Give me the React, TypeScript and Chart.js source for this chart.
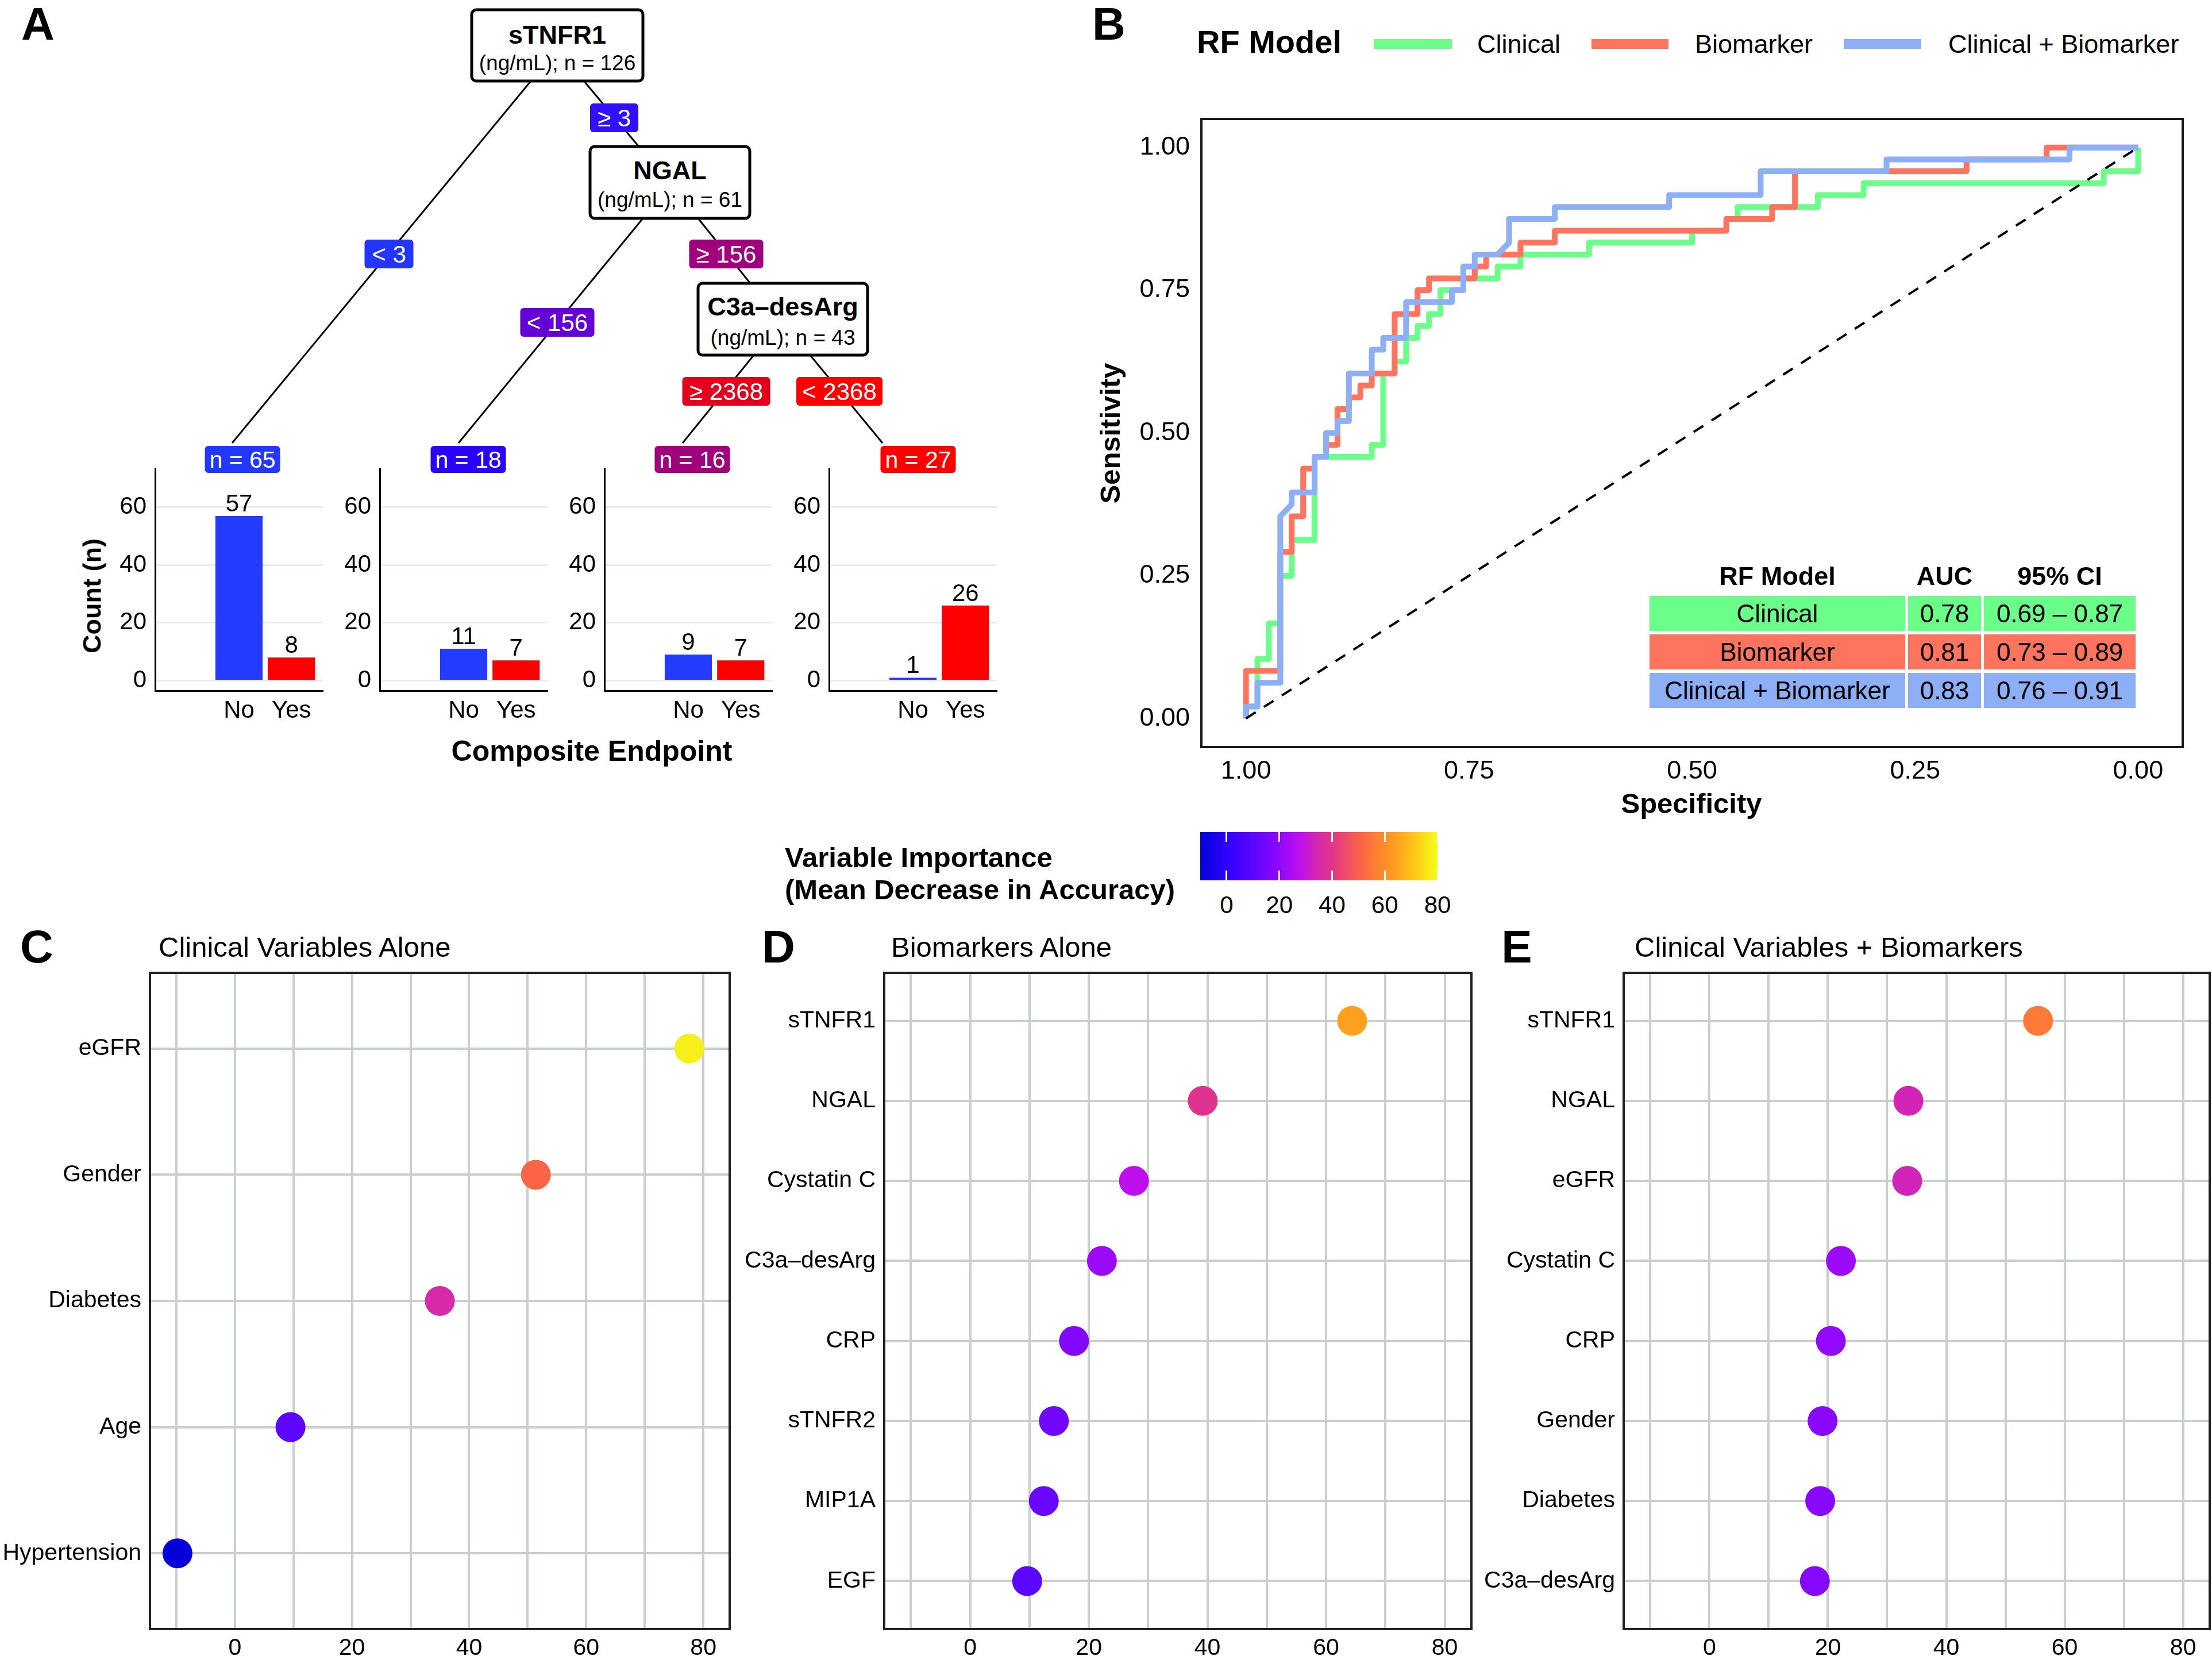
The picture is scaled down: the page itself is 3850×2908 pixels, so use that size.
import React, { useEffect, useRef } from 'react';
import { Chart, registerables } from 'chart.js';

Chart.register(...registerables);

const FONT = '"Liberation Sans", Arial, Helvetica, sans-serif';
Chart.defaults.font.family = FONT;
Chart.defaults.color = '#000';

// ---------------- Panel A : decision tree + leaf bar charts ----------------
const treeSplitVars = ['sTNFR1', 'NGAL', 'C3a–desArg'];
const treeNodeN = [126, 61, 43];
const treeUnit = 'ng/mL';
const edgeLabels = ['≥ 3', '< 3', '< 156', '≥ 156', '≥ 2368', '< 2368'];
const outcomeCategories = ['No', 'Yes'];
const leafNoCounts = [57, 11, 9, 1];
const leafYesCounts = [8, 7, 7, 26];
const countTicks = [0, 20, 40, 60];

// ---------------- Panel B : ROC curves (false-positive / true-positive counts) ----------------
const ROC_NEG = 78;
const ROC_POS = 48;
const clinicalFP = [0, 0, 1, 1, 2, 2, 3, 3, 4, 4, 6, 6, 11, 11, 12, 12, 13, 13, 14, 14, 15, 15, 16, 16, 17, 17, 19, 19, 22, 22, 24, 24, 30, 30, 39, 39, 42, 42, 43, 43, 50, 50, 54, 54, 75, 75, 78, 78];
const clinicalTP = [0, 1, 1, 5, 5, 8, 8, 12, 12, 15, 15, 22, 22, 23, 23, 29, 29, 30, 30, 32, 32, 33, 33, 34, 34, 36, 36, 37, 37, 38, 38, 39, 39, 40, 40, 41, 41, 42, 42, 43, 43, 44, 44, 45, 45, 46, 46, 48];
const biomarkerFP = [0, 0, 3, 3, 4, 4, 5, 5, 6, 6, 7, 7, 8, 8, 9, 9, 10, 10, 11, 11, 13, 13, 15, 15, 16, 16, 20, 20, 21, 21, 24, 24, 27, 27, 42, 42, 46, 46, 48, 48, 63, 63, 70, 70, 78];
const biomarkerTP = [0, 4, 4, 14, 14, 17, 17, 21, 21, 22, 22, 23, 23, 26, 26, 27, 27, 28, 28, 29, 29, 34, 34, 36, 36, 37, 37, 38, 38, 39, 39, 40, 40, 41, 41, 42, 42, 43, 43, 46, 46, 47, 47, 48, 48];
const combinedFP = [0, 0, 1, 1, 3, 3, 4, 4, 6, 6, 7, 7, 8, 8, 9, 9, 11, 11, 12, 12, 14, 14, 18, 18, 19, 19, 20, 20, 22, 23, 23, 27, 27, 37, 37, 45, 45, 56, 56, 72, 72, 78];
const combinedTP = [0, 1, 1, 3, 3, 17, 18, 19, 19, 22, 22, 24, 24, 25, 25, 29, 29, 31, 31, 32, 32, 35, 35, 36, 36, 38, 38, 39, 39, 40, 42, 42, 43, 43, 44, 44, 46, 46, 47, 47, 48, 48];
const rocTicks = [0, 0.25, 0.5, 0.75, 1];
const modelNames = ['Clinical', 'Biomarker', 'Clinical + Biomarker'];
const modelAUC = ['0.78', '0.81', '0.83'];
const modelCI = ['0.69 – 0.87', '0.73 – 0.89', '0.76 – 0.91'];

// ---------------- Panels C, D, E : variable importance ----------------
const clinicalVars = ['eGFR', 'Gender', 'Diabetes', 'Age', 'Hypertension'];
const clinicalImp = [77.6, 51.4, 35.0, 9.5, -9.8];
const biomarkerVars = ['sTNFR1', 'NGAL', 'Cystatin C', 'C3a–desArg', 'CRP', 'sTNFR2', 'MIP1A', 'EGF'];
const biomarkerImp = [64.4, 39.2, 27.6, 22.2, 17.5, 14.1, 12.4, 9.6];
const combinedVars = ['sTNFR1', 'NGAL', 'eGFR', 'Cystatin C', 'CRP', 'Gender', 'Diabetes', 'C3a–desArg'];
const combinedImp = [55.5, 33.6, 33.4, 22.2, 20.5, 19.1, 18.7, 17.8];
const impTicks = [0, 20, 40, 60, 80];
const impGrid = [-10, 0, 10, 20, 30, 40, 50, 60, 70, 80];
const impRange = [-10, 80];

// ---------------- styles ----------------
const NO_BLUE = '#233CFF';
const YES_RED = '#FF0000';
const GREEN = '#6BFF8A';
const SALMON = '#FF745E';
const CORNFLOWER = '#8CAFF6';
const MODEL_COLORS = [GREEN, SALMON, CORNFLOWER];
const GRID_GREY = '#C8CFCC';
const IMP_STOPS = [-10, 0, 10, 20, 28, 35, 40, 51, 56, 65, 72, 80];
const IMP_COLORS = ['#0400D8', '#2E00FF', '#5C06FF', '#9008FF', '#C010EE', '#D62AA8', '#E2358A', '#FA6446', '#FF7C34', '#FFA41E', '#FFCB16', '#F2FF1A'];
const PAD_TOP = 50;

function hexToRgb(h: string) {
  const n = parseInt(h.slice(1), 16);
  return [(n >> 16) & 255, (n >> 8) & 255, n & 255];
}
function importanceColor(v: number) {
  if (v <= IMP_STOPS[0]) return IMP_COLORS[0];
  for (let i = 1; i < IMP_STOPS.length; i++) {
    if (v <= IMP_STOPS[i]) {
      const t = (v - IMP_STOPS[i - 1]) / (IMP_STOPS[i] - IMP_STOPS[i - 1]);
      const a = hexToRgb(IMP_COLORS[i - 1]);
      const b = hexToRgb(IMP_COLORS[i]);
      const c = a.map((x, k) => Math.round(x + (b[k] - x) * t));
      return `rgb(${c[0]},${c[1]},${c[2]})`;
    }
  }
  return IMP_COLORS[IMP_COLORS.length - 1];
}

const framePlugin = (width: number, color: string) => ({
  id: 'frame',
  afterDraw(chart: any) {
    const { ctx, chartArea: a } = chart;
    ctx.save();
    ctx.strokeStyle = color;
    ctx.lineWidth = width;
    ctx.strokeRect(a.left, a.top, a.right - a.left, a.bottom - a.top);
    ctx.restore();
  },
});

const barValueLabels = {
  id: 'barValueLabels',
  afterDatasetsDraw(chart: any) {
    const ctx = chart.ctx;
    const meta = chart.getDatasetMeta(0);
    const ds = chart.data.datasets[0];
    ctx.save();
    ctx.font = `42px ${FONT}`;
    ctx.fillStyle = '#000';
    ctx.textAlign = 'center';
    ctx.textBaseline = 'alphabetic';
    meta.data.forEach((el: any, i: number) => {
      ctx.fillText(String(ds.data[i].y), el.x, el.y - 8);
    });
    ctx.restore();
  },
};

function baseOptions(pad: { top: number; right: number }) {
  return {
    animation: false,
    responsive: false,
    maintainAspectRatio: false,
    devicePixelRatio: 1,
    events: [],
    layout: { autoPadding: false, padding: { top: pad.top, right: pad.right, left: 0, bottom: 0 } },
    plugins: { legend: { display: false }, tooltip: { enabled: false }, title: { display: false } },
  };
}

function barConfig(i: number): any {
  return {
    type: 'bar',
    data: {
      datasets: [
        {
          data: [
            { x: 2, y: leafNoCounts[i] },
            { x: 3, y: leafYesCounts[i] },
          ],
          backgroundColor: [NO_BLUE, YES_RED],
          borderWidth: 0,
          barPercentage: 0.9,
          categoryPercentage: 1,
        },
      ],
    },
    options: {
      ...baseOptions({ top: PAD_TOP, right: 14 }),
      scales: {
        x: {
          type: 'linear',
          min: 0.4,
          max: 3.6,
          offset: false,
          afterBuildTicks: (s: any) => {
            s.ticks = outcomeCategories.map((_, k) => ({ value: k + 2 }));
          },
          ticks: {
            callback: (v: number) => outcomeCategories[v - 2],
            font: { size: 42, family: FONT },
            color: '#000',
            padding: 10,
            autoSkip: false,
            maxRotation: 0,
          },
          grid: { display: false, drawTicks: false, offset: false },
          border: { display: true, color: '#000', width: 3 },
          afterFit: (s: any) => {
            s.height = 58;
          },
        },
        y: {
          type: 'linear',
          min: -3.5,
          max: 73.5,
          afterBuildTicks: (s: any) => {
            s.ticks = countTicks.map((v) => ({ value: v }));
          },
          ticks: { font: { size: 42, family: FONT }, color: '#000', padding: 15 },
          grid: { color: '#EBEBEB', lineWidth: 3, drawTicks: false },
          border: { display: true, color: '#000', width: 3 },
          afterFit: (s: any) => {
            s.width = 85;
          },
        },
      },
    },
    plugins: [barValueLabels],
  };
}

function rocPoints(fp: number[], tp: number[]) {
  return fp.map((f, i) => ({ x: 1 - f / ROC_NEG, y: tp[i] / ROC_POS }));
}

function rocConfig(): any {
  const line = (label: string, data: any[], color: string, order: number) => ({
    label,
    data,
    showLine: true,
    borderColor: color,
    backgroundColor: color,
    borderWidth: 10,
    borderJoinStyle: 'round',
    borderCapStyle: 'butt',
    pointRadius: 0,
    tension: 0,
    order,
  });
  return {
    type: 'scatter',
    data: {
      datasets: [
        {
          label: 'chance',
          data: [
            { x: 1, y: 0 },
            { x: 0, y: 1 },
          ],
          showLine: true,
          borderColor: '#000',
          borderWidth: 4,
          borderDash: [20, 17],
          pointRadius: 0,
          order: 0,
        },
        line(modelNames[2], rocPoints(combinedFP, combinedTP), CORNFLOWER, 1),
        line(modelNames[1], rocPoints(biomarkerFP, biomarkerTP), SALMON, 2),
        line(modelNames[0], rocPoints(clinicalFP, clinicalTP), GREEN, 3),
      ],
    },
    options: {
      ...baseOptions({ top: PAD_TOP, right: 51 }),
      scales: {
        x: {
          type: 'linear',
          reverse: true,
          min: -0.05,
          max: 1.05,
          afterBuildTicks: (s: any) => {
            s.ticks = rocTicks.map((v) => ({ value: v }));
          },
          ticks: {
            callback: (v: number) => v.toFixed(2),
            font: { size: 45, family: FONT },
            color: '#000',
            padding: 16,
            autoSkip: false,
            maxRotation: 0,
          },
          grid: { display: false, drawTicks: false },
          border: { display: false },
          afterFit: (s: any) => {
            s.height = 90;
          },
        },
        y: {
          type: 'linear',
          min: -0.05,
          max: 1.05,
          afterBuildTicks: (s: any) => {
            s.ticks = rocTicks.map((v) => ({ value: v }));
          },
          ticks: {
            callback: (v: number) => v.toFixed(2),
            font: { size: 45, family: FONT },
            color: '#000',
            padding: 20,
          },
          grid: { display: false, drawTicks: false },
          border: { display: false },
          afterFit: (s: any) => {
            s.width = 131;
          },
        },
      },
    },
    plugins: [framePlugin(4, '#1a1a1a')],
  };
}

function dotConfig(labels: string[], values: number[], yWidth: number, padRight: number): any {
  const n = labels.length;
  return {
    type: 'scatter',
    data: {
      datasets: [
        {
          data: values.map((v, i) => ({ x: v, y: n - i })),
          pointRadius: 26,
          pointHoverRadius: 26,
          pointBorderWidth: 0,
          backgroundColor: (ctx: any) => importanceColor(ctx.raw ? ctx.raw.x : 0),
          borderColor: 'rgba(0,0,0,0)',
        },
      ],
    },
    options: {
      ...baseOptions({ top: PAD_TOP, right: padRight }),
      scales: {
        x: {
          type: 'linear',
          min: impRange[0] - 4.5,
          max: impRange[1] + 4.5,
          afterBuildTicks: (s: any) => {
            s.ticks = impGrid.map((v) => ({ value: v }));
          },
          ticks: {
            callback: (v: number) => (impTicks.includes(v) ? String(v) : ''),
            font: { size: 41, family: FONT },
            color: '#000',
            padding: 9,
            autoSkip: false,
            maxRotation: 0,
          },
          grid: { color: GRID_GREY, lineWidth: 4, drawTicks: false },
          border: { display: false },
          afterFit: (s: any) => {
            s.height = 73;
          },
        },
        y: {
          type: 'linear',
          min: 0.4,
          max: n + 0.6,
          afterBuildTicks: (s: any) => {
            s.ticks = labels.map((_, i) => ({ value: n - i }));
          },
          ticks: {
            callback: (v: number) => labels[n - v],
            font: { size: 41, family: FONT },
            color: '#000',
            padding: 15,
            autoSkip: false,
          },
          grid: { color: GRID_GREY, lineWidth: 4, drawTicks: false },
          border: { display: false },
          afterFit: (s: any) => {
            s.width = yWidth;
          },
        },
      },
    },
    plugins: [framePlugin(4, '#222')],
  };
}

function ChartBox(props: { left: number; top: number; width: number; height: number; make: () => any }) {
  const ref = useRef<HTMLCanvasElement>(null);
  useEffect(() => {
    const chart = new Chart(ref.current as HTMLCanvasElement, props.make());
    return () => chart.destroy();
  }, []);
  return (
    <canvas
      ref={ref}
      width={props.width}
      height={props.height}
      style={{ position: 'absolute', left: props.left, top: props.top, width: props.width, height: props.height }}
    />
  );
}

function Txt(props: {
  x: number;
  y: number;
  size: number;
  bold?: boolean;
  anchor?: 'start' | 'middle' | 'end';
  rotate?: number;
  color?: string;
  children: React.ReactNode;
}) {
  const a = props.anchor || 'middle';
  const tx = a === 'start' ? '0' : a === 'end' ? '-100%' : '-50%';
  return (
    <div
      style={{
        position: 'absolute',
        left: props.x,
        top: props.y,
        transform: `translate(${tx}, -50%)${props.rotate ? ` rotate(${props.rotate}deg)` : ''}`,
        fontFamily: FONT,
        fontSize: props.size,
        fontWeight: props.bold ? 'bold' : 'normal',
        color: props.color || '#000',
        whiteSpace: 'nowrap',
        lineHeight: 1,
      }}
    >
      {props.children}
    </div>
  );
}

// tree layout (page pixels)
const TREE_LINES = [
  [924, 141, 404, 771],
  [1018, 143, 1111, 254],
  [1119, 380, 798, 771],
  [1215, 380, 1305, 492],
  [1312, 618, 1188, 771],
  [1410, 618, 1536, 771],
];
const TREE_BOXES = [
  { x: 821, y: 17, w: 298, h: 124, t: 60, s: 109 },
  { x: 1027, y: 255, w: 278, h: 125, t: 296, s: 347 },
  { x: 1215, y: 493, w: 295, h: 125, t: 533, s: 587 },
];
const EDGE_BOXES = [
  { cx: 1069, cy: 205, w: 84, c: '#3010FF' },
  { cx: 677, cy: 442, w: 85, c: '#2236FF' },
  { cx: 970, cy: 561, w: 129, c: '#6400D6' },
  { cx: 1264, cy: 442, w: 129, c: '#A0007C' },
  { cx: 1264, cy: 681, w: 153, c: '#E2001C' },
  { cx: 1461, cy: 681, w: 150, c: '#FF0000' },
];
const LEAF_BOXES = [
  { cx: 422, c: '#2238FF' },
  { cx: 815, c: '#2A00FF' },
  { cx: 1205, c: '#A0007C' },
  { cx: 1598, c: '#FF0000' },
];

function Tree() {
  return (
    <svg width={1800} height={850} style={{ position: 'absolute', left: 0, top: 0 }} fontFamily={FONT}>
      {TREE_LINES.map(([x1, y1, x2, y2], i) => (
        <line key={'l' + i} x1={x1} y1={y1} x2={x2} y2={y2} stroke="#000" strokeWidth={3} />
      ))}
      {TREE_BOXES.map((b, i) => (
        <g key={'b' + i}>
          <rect x={b.x} y={b.y} width={b.w} height={b.h} rx={8} fill="#fff" stroke="#000" strokeWidth={5} />
          <text x={b.x + b.w / 2} y={b.t} textAnchor="middle" dominantBaseline="central" fontWeight="bold" fontSize={45}>
            {treeSplitVars[i]}
          </text>
          <text x={b.x + b.w / 2} y={b.s} textAnchor="middle" dominantBaseline="central" fontSize={37}>
            {`(${treeUnit}); n = ${treeNodeN[i]}`}
          </text>
        </g>
      ))}
      {EDGE_BOXES.map((e, i) => (
        <g key={'e' + i}>
          <rect x={e.cx - e.w / 2} y={e.cy - 25} width={e.w} height={50} rx={6} fill={e.c} />
          <text x={e.cx} y={e.cy} textAnchor="middle" dominantBaseline="central" fontSize={42} fill="#fff">
            {edgeLabels[i]}
          </text>
        </g>
      ))}
      {LEAF_BOXES.map((e, i) => (
        <g key={'n' + i}>
          <rect x={e.cx - 65.5} y={776} width={131} height={47} rx={6} fill={e.c} />
          <text x={e.cx} y={800} textAnchor="middle" dominantBaseline="central" fontSize={41} fill="#fff">
            {`n = ${leafNoCounts[i] + leafYesCounts[i]}`}
          </text>
        </g>
      ))}
    </svg>
  );
}

function Colorbar() {
  const x0 = 2089;
  const w = 413;
  const span = impRange[1] - impRange[0];
  const grad = IMP_STOPS.map((v, i) => `${IMP_COLORS[i]} ${(((v - impRange[0]) / span) * 100).toFixed(2)}%`).join(', ');
  const px = (v: number) => x0 + ((v - impRange[0]) / span) * w;
  return (
    <>
      <div style={{ position: 'absolute', left: x0, top: 1448, width: w, height: 84, background: `linear-gradient(to right, ${grad})` }} />
      {impTicks.map((v) => (
        <React.Fragment key={v}>
          <div style={{ position: 'absolute', left: px(v) - 1.5, top: 1448, width: 3, height: 17, background: '#fff' }} />
          <div style={{ position: 'absolute', left: px(v) - 1.5, top: 1515, width: 3, height: 17, background: '#fff' }} />
          <Txt x={px(v)} y={1575} size={42}>
            {String(v)}
          </Txt>
        </React.Fragment>
      ))}
      <Txt x={1366} y={1492} size={49} bold anchor="start">
        Variable Importance
      </Txt>
      <Txt x={1366} y={1548} size={49} bold anchor="start">
        (Mean Decrease in Accuracy)
      </Txt>
    </>
  );
}

function RocLegendAndTable() {
  const keys = [
    { kx: 2391, kw: 136, tx: 2571 },
    { kx: 2770, kw: 134, tx: 2950 },
    { kx: 3209, kw: 135, tx: 3391 },
  ];
  const rows = [
    [1037, 1098],
    [1104, 1165],
    [1171, 1232],
  ];
  const cols = [
    [2871, 3316],
    [3321, 3448],
    [3453, 3717],
  ];
  const headers = ['RF Model', 'AUC', '95% CI'];
  return (
    <>
      <Txt x={2083} y={73} size={56} bold anchor="start">
        RF Model
      </Txt>
      {keys.map((k, i) => (
        <React.Fragment key={i}>
          <div style={{ position: 'absolute', left: k.kx, top: 68, width: k.kw, height: 17, background: MODEL_COLORS[i] }} />
          <Txt x={k.tx} y={76} size={45} anchor="start">
            {modelNames[i]}
          </Txt>
        </React.Fragment>
      ))}
      {headers.map((h, j) => (
        <Txt key={h} x={(cols[j][0] + cols[j][1]) / 2} y={1002} size={45} bold>
          {h}
        </Txt>
      ))}
      {modelNames.map((m, i) => {
        const cells = [m, modelAUC[i], modelCI[i]];
        return cells.map((c, j) => (
          <div
            key={i + '-' + j}
            style={{
              position: 'absolute',
              left: cols[j][0],
              top: rows[i][0],
              width: cols[j][1] - cols[j][0],
              height: rows[i][1] - rows[i][0],
              background: MODEL_COLORS[i],
              display: 'flex',
              alignItems: 'center',
              justifyContent: 'center',
              fontFamily: FONT,
              fontSize: 44,
              color: '#000',
              whiteSpace: 'nowrap',
            }}
          >
            {c}
          </div>
        ));
      })}
    </>
  );
}

export default function App() {
  return (
    <div style={{ position: 'absolute', left: 0, top: 0, width: 3850, height: 2908, background: '#fff', overflow: 'hidden' }}>
      {/* Panel A */}
      <Tree />
      {leafNoCounts.map((_, i) => (
        <ChartBox key={'bar' + i} left={185 + 391 * i} top={815 - PAD_TOP} width={391} height={1260 - 815 + PAD_TOP} make={() => barConfig(i)} />
      ))}
      <Txt x={160} y={1037} size={45} bold rotate={-90}>
        Count (n)
      </Txt>
      <Txt x={1030} y={1307} size={50} bold>
        Composite Endpoint
      </Txt>

      {/* Panel B */}
      <ChartBox left={1960} top={207 - PAD_TOP} width={1890} height={1390 - 207 + PAD_TOP} make={rocConfig} />
      <RocLegendAndTable />
      <Txt x={1932} y={754} size={49} bold rotate={-90}>
        Sensitivity
      </Txt>
      <Txt x={2944} y={1398} size={49} bold>
        Specificity
      </Txt>

      {/* colour legend */}
      <Colorbar />

      {/* Panels C, D, E */}
      <ChartBox left={0} top={1693 - PAD_TOP} width={1285} height={2908 - 1693 + PAD_TOP} make={() => dotConfig(clinicalVars, clinicalImp, 261, 15)} />
      <ChartBox left={1285} top={1693 - PAD_TOP} width={1290} height={2908 - 1693 + PAD_TOP} make={() => dotConfig(biomarkerVars, biomarkerImp, 254, 14)} />
      <ChartBox left={2575} top={1693 - PAD_TOP} width={1275} height={2908 - 1693 + PAD_TOP} make={() => dotConfig(combinedVars, combinedImp, 251, 4)} />
      <Txt x={276} y={1648} size={49} anchor="start">
        Clinical Variables Alone
      </Txt>
      <Txt x={1551} y={1648} size={49} anchor="start">
        Biomarkers Alone
      </Txt>
      <Txt x={2845} y={1648} size={49} anchor="start">
        Clinical Variables + Biomarkers
      </Txt>

      {/* panel letters */}
      <Txt x={66} y={42} size={80} bold>
        A
      </Txt>
      <Txt x={1930} y={42} size={80} bold>
        B
      </Txt>
      <Txt x={64} y={1648} size={80} bold>
        C
      </Txt>
      <Txt x={1355} y={1648} size={80} bold>
        D
      </Txt>
      <Txt x={2640} y={1648} size={80} bold>
        E
      </Txt>
    </div>
  );
}
